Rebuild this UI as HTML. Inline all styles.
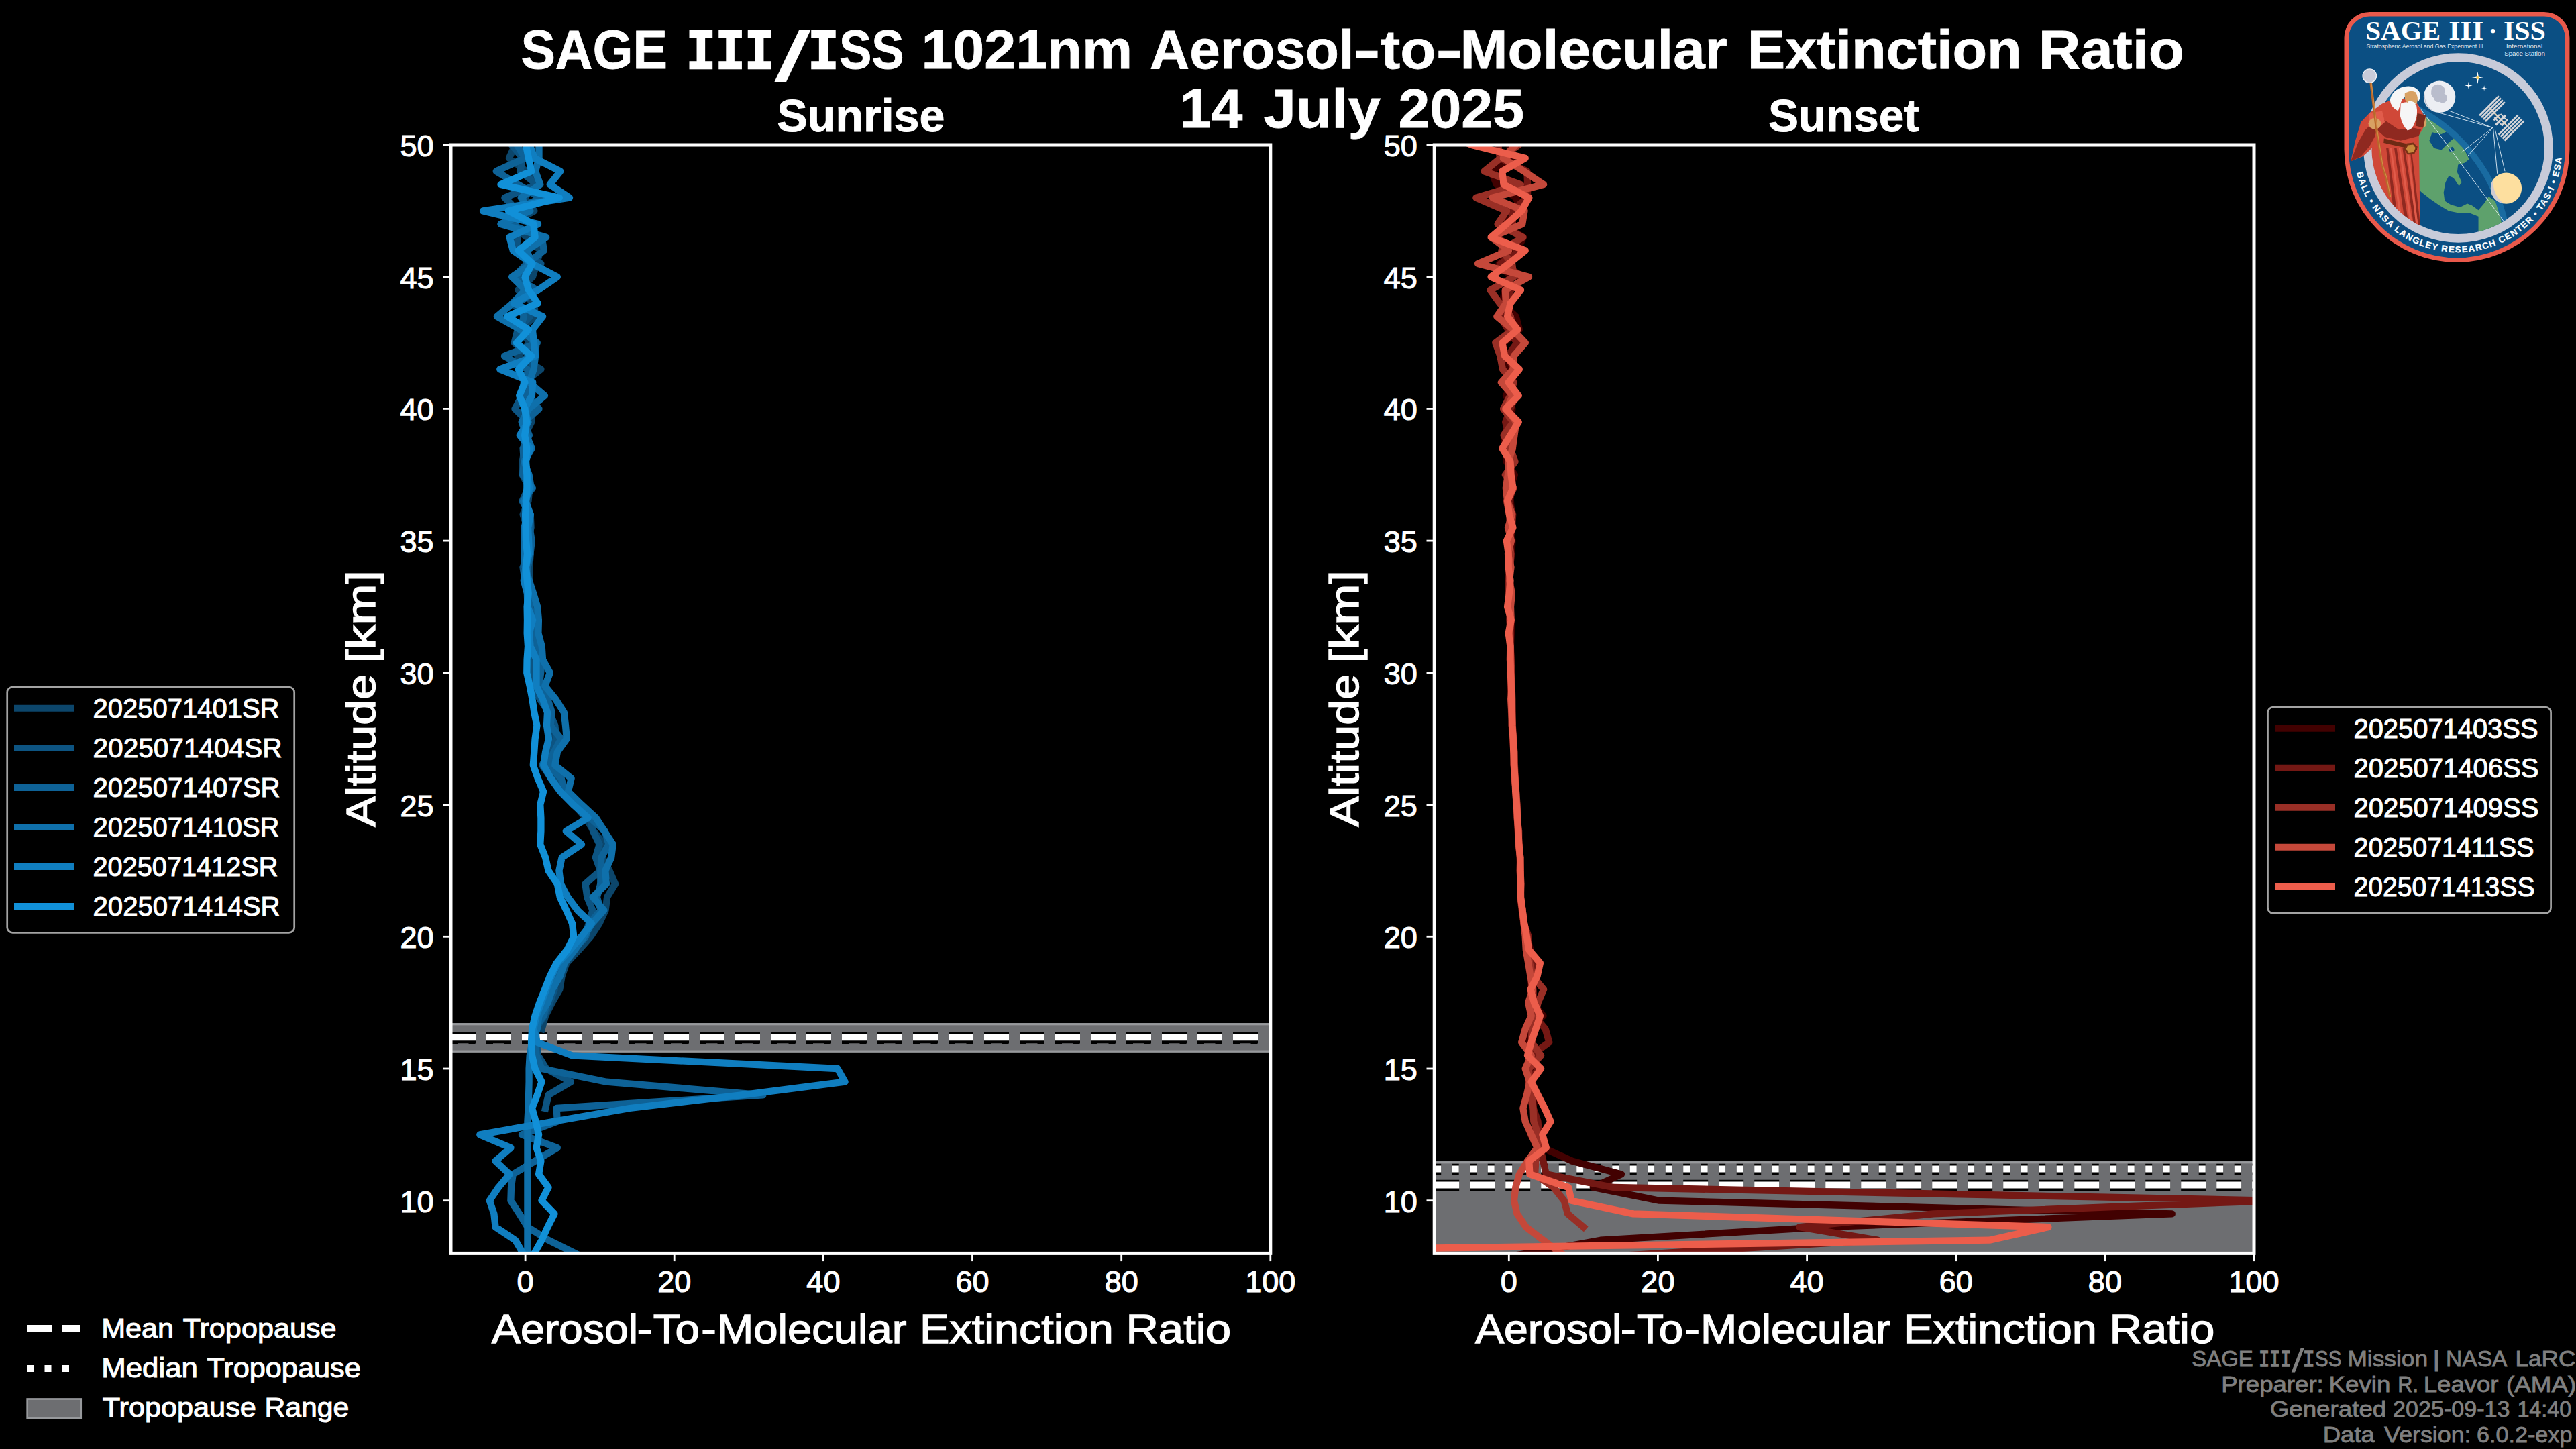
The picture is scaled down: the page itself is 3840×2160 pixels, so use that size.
<!DOCTYPE html>
<html lang="en"><head><meta charset="utf-8"><title>SAGE III/ISS 1021nm Aerosol-to-Molecular Extinction Ratio</title>
<style>html,body{margin:0;padding:0;background:#000;overflow:hidden;width:100%;height:100%}svg{display:block;width:100vw;height:100vh}</style></head><body>
<svg viewBox="0 0 3840 2160" preserveAspectRatio="xMidYMid meet" font-family="'Liberation Sans', sans-serif">
<rect width="3840" height="2160" fill="#000"/>
<defs>
<clipPath id="clip0"><rect x="672.0" y="216.0" width="1221.8" height="1652.4"/></clipPath>
<clipPath id="clip1"><rect x="2138.2" y="216.0" width="1221.8" height="1652.4"/></clipPath>
</defs>
<g clip-path="url(#clip0)">
<rect x="662.0" y="1526.7" width="1241.8" height="40.5" fill="#6d6e71" stroke="#97999c" stroke-width="3.3"/>
<line x1="672.0" y1="1548.0" x2="1893.8" y2="1548.0" stroke="#000" stroke-width="16.7" stroke-dasharray="10 16.5"/>
<line x1="672.0" y1="1547.4" x2="1893.8" y2="1547.4" stroke="#fff" stroke-width="10" stroke-dasharray="10 16.5"/>
<line x1="672.0" y1="1546.8" x2="1893.8" y2="1546.8" stroke="#000" stroke-width="16.7" stroke-dasharray="37 16"/>
<line x1="672.0" y1="1546.2" x2="1893.8" y2="1546.2" stroke="#fff" stroke-width="10" stroke-dasharray="37 16"/>
<polyline points="754.7,196.3 767.9,216.0 759.0,235.7 784.2,255.3 798.7,275.0 781.8,294.7 796.4,314.4 760.1,334.0 785.4,353.7 805.6,373.4 799.9,393.0 794.0,412.7 772.1,432.4 796.4,452.1 797.8,471.7 774.5,491.4 789.7,511.1 771.4,530.7 806.4,550.4 780.7,570.1 777.1,589.8 791.2,609.4 792.2,629.1 782.4,648.8 782.1,668.4 778.6,688.1 778.6,707.8 789.3,727.5 787.5,747.1 779.6,766.8 785.8,786.5 784.9,806.1 790.8,825.8 789.1,845.5 789.3,865.2 790.3,884.8 797.3,904.5 800.3,924.2 796.4,943.8 798.3,963.5 804.7,983.2 799.7,1002.9 806.5,1022.5 808.6,1042.2 816.1,1061.9 819.7,1081.5 819.2,1101.2 820.9,1120.9 827.3,1140.6 832.0,1160.2 843.0,1179.9 856.2,1199.6 873.1,1219.2 884.9,1238.9 900.3,1258.6 898.2,1278.3 908.5,1297.9 917.1,1317.6 905.1,1337.3 902.6,1356.9 893.5,1376.6 880.4,1396.3 863.1,1416.0 844.5,1435.6 837.5,1455.3 834.3,1475.0 822.9,1494.6 813.1,1514.3 807.7,1534.0" fill="none" stroke="#0c466b" stroke-width="10.3" stroke-linejoin="round" stroke-linecap="square"/>
<polyline points="753.0,196.3 762.9,216.0 778.9,235.7 775.6,255.3 800.2,275.0 752.4,294.7 771.9,314.4 768.5,334.0 772.0,353.7 768.7,373.4 806.4,393.0 764.0,412.7 783.7,432.4 763.5,452.1 790.2,471.7 771.7,491.4 766.7,511.1 790.4,530.7 795.2,550.4 787.9,570.1 778.0,589.8 767.5,609.4 787.3,629.1 781.2,648.8 785.8,668.4 782.5,688.1 785.4,707.8 787.5,727.5 778.4,747.1 790.7,766.8 791.5,786.5 787.3,806.1 788.9,825.8 779.5,845.5 782.6,865.2 791.7,884.8 791.8,904.5 790.9,924.2 788.8,943.8 794.0,963.5 795.4,983.2 794.5,1002.9 796.3,1022.5 804.7,1042.2 819.0,1061.9 827.4,1081.5 829.3,1101.2 819.9,1120.9 808.2,1140.6 821.6,1160.2 840.6,1179.9 855.6,1199.6 879.2,1219.2 884.1,1238.9 893.6,1258.6 887.9,1278.3 895.1,1297.9 872.5,1317.6 875.3,1337.3 883.4,1356.9 877.8,1376.6 871.6,1396.3 850.0,1416.0 840.1,1435.6 828.0,1455.3 826.5,1475.0 819.7,1494.6 811.1,1514.3 798.7,1534.0 799.7,1553.7 802.0,1573.3 814.2,1593.0 850.8,1612.7 817.5,1632.3 813.1,1652.0" fill="none" stroke="#0d5482" stroke-width="10.3" stroke-linejoin="round" stroke-linecap="square"/>
<polyline points="762.2,196.3 770.8,216.0 782.5,235.7 739.8,255.3 772.1,275.0 805.8,294.7 768.5,314.4 760.0,334.0 807.8,353.7 810.8,373.4 785.3,393.0 766.4,412.7 800.8,432.4 771.5,452.1 781.0,471.7 774.9,491.4 800.8,511.1 752.0,530.7 786.1,550.4 783.8,570.1 785.2,589.8 803.5,609.4 781.0,629.1 788.9,648.8 779.6,668.4 781.0,688.1 779.2,707.8 793.8,727.5 779.6,747.1 787.8,766.8 789.5,786.5 792.7,806.1 790.5,825.8 786.7,845.5 786.7,865.2 789.2,884.8 789.1,904.5 797.0,924.2 796.4,943.8 801.1,963.5 808.4,983.2 806.1,1002.9 803.7,1022.5 816.3,1042.2 822.8,1061.9 820.6,1081.5 836.5,1101.2 825.8,1120.9 816.0,1140.6 836.7,1160.2 841.6,1179.9 864.0,1199.6 879.7,1219.2 901.6,1238.9 907.5,1258.6 896.4,1278.3 895.3,1297.9 895.3,1317.6 889.9,1337.3 895.6,1356.9 878.9,1376.6 873.1,1396.3 855.3,1416.0 838.2,1435.6 832.0,1455.3 817.1,1475.0 815.0,1494.6 810.3,1514.3 796.4,1534.0 797.5,1553.7 799.7,1573.3 807.5,1593.0 904.1,1612.7 1137.4,1632.3 829.7,1652.0 830.8,1671.7 778.0,1691.4 830.8,1711.0 797.5,1730.7 764.7,1750.4 762.0,1770.0 761.4,1789.7 774.2,1809.4 786.4,1829.1 817.5,1848.7 857.5,1868.4" fill="none" stroke="#0e6297" stroke-width="10.3" stroke-linejoin="round" stroke-linecap="square"/>
<polyline points="790.8,196.3 803.5,216.0 803.5,235.7 798.1,255.3 805.3,275.0 776.7,294.7 790.4,314.4 746.4,334.0 814.2,353.7 785.1,373.4 793.1,393.0 763.1,412.7 783.3,432.4 764.2,452.1 740.9,471.7 775.6,491.4 799.4,511.1 798.1,530.7 795.6,550.4 788.9,570.1 812.0,589.8 788.4,609.4 777.7,629.1 784.7,648.8 792.7,668.4 781.3,688.1 788.6,707.8 791.8,727.5 780.5,747.1 786.9,766.8 781.4,786.5 781.9,806.1 781.3,825.8 782.8,845.5 788.7,865.2 795.2,884.8 801.1,904.5 802.9,924.2 802.4,943.8 807.7,963.5 809.0,983.2 819.9,1002.9 812.3,1022.5 828.3,1042.2 840.8,1061.9 843.0,1081.5 844.8,1101.2 830.9,1120.9 827.2,1140.6 851.6,1160.2 846.9,1179.9 867.1,1199.6 888.5,1219.2 901.1,1238.9 913.7,1258.6 911.2,1278.3 902.4,1297.9 903.9,1317.6 883.8,1337.3 900.2,1356.9 882.7,1376.6 870.4,1396.3 856.9,1416.0 841.7,1435.6 834.7,1455.3 823.2,1475.0 816.5,1494.6 803.5,1514.3 800.7,1534.0 793.1,1553.7 789.7,1573.3 788.6,1593.0 788.6,1612.7 788.1,1632.3 787.5,1652.0 786.4,1671.7 786.4,1691.4 786.4,1711.0 786.4,1730.7 786.4,1750.4 786.4,1770.0 786.4,1789.7 786.4,1809.4 786.4,1829.1 786.4,1848.7 786.4,1868.4" fill="none" stroke="#0f70ab" stroke-width="10.3" stroke-linejoin="round" stroke-linecap="square"/>
<polyline points="760.7,196.3 789.7,216.0 796.4,235.7 835.3,255.3 819.7,275.0 849.0,294.7 720.0,314.4 802.0,334.0 759.6,353.7 764.8,373.4 793.0,393.0 830.8,412.7 802.0,432.4 765.9,452.1 809.1,471.7 793.8,491.4 795.9,511.1 797.8,530.7 745.3,550.4 794.2,570.1 792.9,589.8 781.8,609.4 787.3,629.1 774.8,648.8 790.3,668.4 783.3,688.1 785.7,707.8 789.3,727.5 783.3,747.1 790.8,766.8 787.1,786.5 788.1,806.1 788.8,825.8 783.5,845.5 780.8,865.2 785.9,884.8 786.5,904.5 794.1,924.2 788.9,943.8 790.6,963.5 799.6,983.2 799.5,1002.9 799.5,1022.5 808.9,1042.2 816.0,1061.9 815.0,1081.5 818.0,1101.2 813.1,1120.9 810.2,1140.6 821.2,1160.2 835.2,1179.9 854.6,1199.6 876.7,1219.2 843.8,1238.9 867.0,1258.6 837.6,1278.3 833.4,1297.9 835.9,1317.6 846.4,1337.3 860.9,1356.9 881.7,1376.6 866.4,1396.3 849.8,1416.0 831.5,1435.6 822.1,1455.3 814.2,1475.0 806.9,1494.6 799.4,1514.3 795.4,1534.0 800.8,1553.7 852.5,1573.3 1248.5,1593.0 1259.6,1612.7 1105.2,1632.3 938.6,1652.0 825.3,1671.7 715.3,1691.4 761.4,1711.0 738.6,1730.7 759.7,1750.4 743.1,1770.0 729.8,1789.7 736.4,1809.4 738.6,1829.1 768.1,1848.7 779.7,1868.4" fill="none" stroke="#107ec0" stroke-width="10.3" stroke-linejoin="round" stroke-linecap="square"/>
<polyline points="773.2,196.3 783.9,216.0 788.0,235.7 792.1,255.3 746.5,275.0 833.8,294.7 758.0,314.4 795.3,334.0 797.6,353.7 772.7,373.4 793.5,393.0 782.4,412.7 788.0,432.4 801.7,452.1 756.2,471.7 788.0,491.4 770.0,511.1 792.1,530.7 772.7,550.4 782.4,570.1 774.2,589.8 782.4,609.4 785.1,629.1 782.2,648.8 785.2,668.4 784.1,688.1 785.5,707.8 785.4,727.5 784.2,747.1 783.1,766.8 783.6,786.5 784.0,806.1 786.0,825.8 784.1,845.5 785.8,865.2 787.6,884.8 785.6,904.5 786.0,924.2 785.7,943.8 787.0,963.5 785.6,983.2 785.3,1002.9 789.7,1022.5 793.5,1042.2 796.3,1061.9 800.4,1081.5 797.6,1101.2 796.3,1120.9 794.8,1140.6 801.7,1160.2 810.1,1179.9 805.3,1199.6 806.4,1219.2 806.4,1238.9 805.3,1258.6 813.1,1278.3 817.5,1297.9 830.8,1317.6 834.7,1337.3 844.2,1356.9 853.0,1376.6 855.3,1396.3 845.3,1416.0 829.7,1435.6 819.7,1455.3 812.0,1475.0 804.2,1494.6 797.5,1514.3 793.1,1534.0 792.0,1553.7 793.1,1573.3 797.5,1593.0 807.5,1612.7 800.8,1632.3 793.1,1652.0 798.6,1671.7 803.1,1691.4 799.7,1711.0 806.4,1730.7 803.1,1750.4 817.5,1770.0 807.5,1789.7 826.4,1809.4 816.4,1829.1 807.5,1848.7 796.4,1868.4" fill="none" stroke="#1190d8" stroke-width="10.3" stroke-linejoin="round" stroke-linecap="square"/>
</g>
<rect x="672.0" y="216.0" width="1221.8" height="1652.4" fill="none" stroke="#fff" stroke-width="5"/>
<line x1="660.3" y1="1789.7" x2="672.0" y2="1789.7" stroke="#fff" stroke-width="2.8"/>
<text x="646.5" y="1806.6" font-size="45.0" text-anchor="end" fill="#fff" stroke="#fff" stroke-width="1.17">10</text>
<line x1="660.3" y1="1593.0" x2="672.0" y2="1593.0" stroke="#fff" stroke-width="2.8"/>
<text x="646.5" y="1609.9" font-size="45.0" text-anchor="end" fill="#fff" stroke="#fff" stroke-width="1.17">15</text>
<line x1="660.3" y1="1396.3" x2="672.0" y2="1396.3" stroke="#fff" stroke-width="2.8"/>
<text x="646.5" y="1413.2" font-size="45.0" text-anchor="end" fill="#fff" stroke="#fff" stroke-width="1.17">20</text>
<line x1="660.3" y1="1199.6" x2="672.0" y2="1199.6" stroke="#fff" stroke-width="2.8"/>
<text x="646.5" y="1216.5" font-size="45.0" text-anchor="end" fill="#fff" stroke="#fff" stroke-width="1.17">25</text>
<line x1="660.3" y1="1002.9" x2="672.0" y2="1002.9" stroke="#fff" stroke-width="2.8"/>
<text x="646.5" y="1019.8" font-size="45.0" text-anchor="end" fill="#fff" stroke="#fff" stroke-width="1.17">30</text>
<line x1="660.3" y1="806.1" x2="672.0" y2="806.1" stroke="#fff" stroke-width="2.8"/>
<text x="646.5" y="823.0" font-size="45.0" text-anchor="end" fill="#fff" stroke="#fff" stroke-width="1.17">35</text>
<line x1="660.3" y1="609.4" x2="672.0" y2="609.4" stroke="#fff" stroke-width="2.8"/>
<text x="646.5" y="626.3" font-size="45.0" text-anchor="end" fill="#fff" stroke="#fff" stroke-width="1.17">40</text>
<line x1="660.3" y1="412.7" x2="672.0" y2="412.7" stroke="#fff" stroke-width="2.8"/>
<text x="646.5" y="429.6" font-size="45.0" text-anchor="end" fill="#fff" stroke="#fff" stroke-width="1.17">45</text>
<line x1="660.3" y1="216.0" x2="672.0" y2="216.0" stroke="#fff" stroke-width="2.8"/>
<text x="646.5" y="232.9" font-size="45.0" text-anchor="end" fill="#fff" stroke="#fff" stroke-width="1.17">50</text>
<line x1="783.1" y1="1868.4" x2="783.1" y2="1880.1" stroke="#fff" stroke-width="2.8"/>
<text x="783.1" y="1926.4" font-size="45.0" text-anchor="middle" fill="#fff" stroke="#fff" stroke-width="1.17">0</text>
<line x1="1005.2" y1="1868.4" x2="1005.2" y2="1880.1" stroke="#fff" stroke-width="2.8"/>
<text x="1005.2" y="1926.4" font-size="45.0" text-anchor="middle" fill="#fff" stroke="#fff" stroke-width="1.17">20</text>
<line x1="1227.4" y1="1868.4" x2="1227.4" y2="1880.1" stroke="#fff" stroke-width="2.8"/>
<text x="1227.4" y="1926.4" font-size="45.0" text-anchor="middle" fill="#fff" stroke="#fff" stroke-width="1.17">40</text>
<line x1="1449.5" y1="1868.4" x2="1449.5" y2="1880.1" stroke="#fff" stroke-width="2.8"/>
<text x="1449.5" y="1926.4" font-size="45.0" text-anchor="middle" fill="#fff" stroke="#fff" stroke-width="1.17">60</text>
<line x1="1671.7" y1="1868.4" x2="1671.7" y2="1880.1" stroke="#fff" stroke-width="2.8"/>
<text x="1671.7" y="1926.4" font-size="45.0" text-anchor="middle" fill="#fff" stroke="#fff" stroke-width="1.17">80</text>
<line x1="1893.8" y1="1868.4" x2="1893.8" y2="1880.1" stroke="#fff" stroke-width="2.8"/>
<text x="1893.8" y="1926.4" font-size="45.0" text-anchor="middle" fill="#fff" stroke="#fff" stroke-width="1.17">100</text>
<text x="733.0" y="2002.2" font-size="60.8" fill="#fff" stroke="#fff" stroke-width="1.40" textLength="218.0" lengthAdjust="spacingAndGlyphs">Aerosol</text>
<text x="949.5" y="2002.2" font-size="60.8" fill="#fff" stroke="#fff" stroke-width="1.40" textLength="23.1" lengthAdjust="spacingAndGlyphs">-</text>
<text x="973.7" y="2002.2" font-size="60.8" fill="#fff" stroke="#fff" stroke-width="1.40" textLength="69.2" lengthAdjust="spacingAndGlyphs">To</text>
<text x="1045.3" y="2002.2" font-size="60.8" fill="#fff" stroke="#fff" stroke-width="1.40" textLength="22.5" lengthAdjust="spacingAndGlyphs">-</text>
<text x="1068.9" y="2002.2" font-size="60.8" fill="#fff" stroke="#fff" stroke-width="1.40" textLength="282.5" lengthAdjust="spacingAndGlyphs">Molecular</text>
<text x="1371.0" y="2002.2" font-size="60.8" fill="#fff" stroke="#fff" stroke-width="1.40" textLength="288.7" lengthAdjust="spacingAndGlyphs">Extinction</text>
<text x="1678.4" y="2002.2" font-size="60.8" fill="#fff" stroke="#fff" stroke-width="1.40" textLength="156.6" lengthAdjust="spacingAndGlyphs">Ratio</text>
<g transform="translate(558.5,0) rotate(-90)">
<text x="-1232.8" y="0.0" font-size="60.8" fill="#fff" stroke="#fff" stroke-width="1.40" textLength="228.0" lengthAdjust="spacingAndGlyphs">Altitude</text>
<text x="-988.3" y="0.0" font-size="60.8" fill="#fff" stroke="#fff" stroke-width="1.40" textLength="138.1" lengthAdjust="spacingAndGlyphs">[km]</text>
</g>
<text x="1158.3" y="196.0" font-size="67.8" font-weight="bold" fill="#fff" stroke="#fff" stroke-width="0.90" textLength="250.2" lengthAdjust="spacingAndGlyphs">Sunrise</text>
<g clip-path="url(#clip1)">
<rect x="2128.2" y="1732.7" width="1241.8" height="214.4" fill="#6d6e71" stroke="#97999c" stroke-width="3.3"/>
<line x1="2138.2" y1="1743.1" x2="3360.0" y2="1743.1" stroke="#000" stroke-width="16.7" stroke-dasharray="10 16.5"/>
<line x1="2138.2" y1="1742.5" x2="3360.0" y2="1742.5" stroke="#fff" stroke-width="10" stroke-dasharray="10 16.5"/>
<line x1="2138.2" y1="1767.1" x2="3360.0" y2="1767.1" stroke="#000" stroke-width="16.7" stroke-dasharray="37 16"/>
<line x1="2138.2" y1="1766.5" x2="3360.0" y2="1766.5" stroke="#fff" stroke-width="10" stroke-dasharray="37 16"/>
<polyline points="2238.4,196.3 2250.2,216.0 2253.4,235.7 2222.7,255.3 2231.0,275.0 2259.8,294.7 2267.9,314.4 2239.1,334.0 2270.9,353.7 2261.5,373.4 2234.6,393.0 2252.2,412.7 2244.0,432.4 2238.6,452.1 2259.7,471.7 2265.0,491.4 2241.9,511.1 2238.1,530.7 2253.0,550.4 2256.1,570.1 2245.0,589.8 2254.5,609.4 2250.8,629.1 2242.0,648.8 2244.4,668.4 2245.8,688.1 2257.8,707.8 2251.1,727.5 2251.9,747.1 2253.4,766.8 2251.5,786.5 2254.4,806.1 2253.4,825.8 2250.8,845.5 2250.7,865.2 2253.6,884.8 2251.0,904.5 2253.0,924.2 2252.8,943.8 2252.0,963.5 2253.1,983.2 2251.0,1002.9 2251.6,1022.5 2253.6,1042.2 2254.6,1061.9 2253.5,1081.5 2254.7,1101.2 2256.6,1120.9 2256.5,1140.6 2258.6,1160.2 2259.4,1179.9 2261.1,1199.6 2262.1,1219.2 2262.6,1238.9 2264.2,1258.6 2266.1,1278.3 2265.7,1297.9 2266.7,1317.6 2266.5,1337.3 2268.7,1356.9 2271.3,1376.6 2275.5,1396.3 2281.9,1416.0 2285.8,1435.6 2282.4,1455.3 2282.3,1475.0 2284.8,1494.6 2300.4,1514.3 2279.3,1534.0 2276.4,1553.7 2282.7,1573.3 2285.5,1593.0 2284.2,1612.7 2289.3,1632.3 2285.2,1652.0 2292.6,1671.7 2281.5,1691.4 2300.4,1711.0 2343.7,1730.7 2417.0,1750.4 2374.8,1770.0 2473.6,1789.7 3237.8,1809.4 2721.3,1829.1 2385.9,1848.7 2277.0,1868.4 2160.4,1888.1" fill="none" stroke="#420101" stroke-width="10.3" stroke-linejoin="round" stroke-linecap="square"/>
<polyline points="2250.5,196.3 2233.3,216.0 2235.8,235.7 2276.4,255.3 2277.1,275.0 2277.0,294.7 2253.5,314.4 2255.0,334.0 2228.9,353.7 2266.2,373.4 2236.7,393.0 2271.6,412.7 2252.0,432.4 2247.8,452.1 2236.0,471.7 2248.1,491.4 2261.5,511.1 2247.6,530.7 2256.8,550.4 2243.1,570.1 2259.2,589.8 2251.6,609.4 2244.2,629.1 2249.3,648.8 2255.0,668.4 2250.2,688.1 2247.7,707.8 2255.8,727.5 2249.2,747.1 2255.2,766.8 2253.9,786.5 2250.3,806.1 2249.1,825.8 2249.6,845.5 2249.1,865.2 2249.4,884.8 2250.9,904.5 2250.3,924.2 2251.9,943.8 2251.6,963.5 2250.9,983.2 2252.0,1002.9 2253.0,1022.5 2252.8,1042.2 2253.0,1061.9 2254.9,1081.5 2255.6,1101.2 2257.0,1120.9 2257.9,1140.6 2259.0,1160.2 2259.6,1179.9 2260.2,1199.6 2262.8,1219.2 2263.0,1238.9 2264.4,1258.6 2265.6,1278.3 2266.9,1297.9 2266.4,1317.6 2266.4,1337.3 2268.8,1356.9 2271.8,1376.6 2278.6,1396.3 2277.3,1416.0 2287.0,1435.6 2282.4,1455.3 2285.6,1475.0 2285.8,1494.6 2287.3,1514.3 2303.7,1534.0 2309.3,1553.7 2282.5,1573.3 2292.6,1593.0 2281.7,1612.7 2279.4,1632.3 2285.7,1652.0 2292.3,1671.7 2294.8,1691.4 2295.9,1711.0 2300.4,1730.7 2304.8,1750.4 2404.8,1770.0 3393.3,1789.7 2882.4,1809.4 2682.5,1829.1 2799.1,1848.7 2473.6,1868.4 2147.1,1888.1" fill="none" stroke="#741814" stroke-width="10.3" stroke-linejoin="round" stroke-linecap="square"/>
<polyline points="2278.9,196.3 2263.7,216.0 2236.8,235.7 2212.6,255.3 2266.9,275.0 2200.4,294.7 2246.0,314.4 2232.6,334.0 2270.4,353.7 2238.4,373.4 2254.1,393.0 2256.7,412.7 2221.5,432.4 2235.7,452.1 2251.8,471.7 2255.5,491.4 2229.3,511.1 2236.4,530.7 2240.0,550.4 2256.5,570.1 2251.2,589.8 2241.1,609.4 2255.8,629.1 2241.7,648.8 2251.3,668.4 2258.5,688.1 2243.9,707.8 2256.7,727.5 2246.0,747.1 2250.1,766.8 2251.2,786.5 2249.7,806.1 2252.4,825.8 2251.4,845.5 2250.0,865.2 2249.6,884.8 2251.3,904.5 2251.2,924.2 2250.9,943.8 2251.4,963.5 2252.5,983.2 2253.2,1002.9 2253.6,1022.5 2254.3,1042.2 2254.4,1061.9 2254.7,1081.5 2255.9,1101.2 2257.1,1120.9 2257.9,1140.6 2257.7,1160.2 2260.1,1179.9 2261.5,1199.6 2261.4,1219.2 2264.1,1238.9 2264.1,1258.6 2266.3,1278.3 2265.7,1297.9 2267.0,1317.6 2266.6,1337.3 2269.7,1356.9 2271.5,1376.6 2276.9,1396.3 2277.8,1416.0 2280.3,1435.6 2284.9,1455.3 2301.1,1475.0 2292.6,1494.6 2288.2,1514.3 2283.7,1534.0 2283.1,1553.7 2297.0,1573.3 2279.3,1593.0 2278.4,1612.7 2284.1,1632.3 2285.5,1652.0 2286.3,1671.7 2292.8,1691.4 2292.6,1711.0 2289.3,1730.7 2288.1,1750.4 2315.9,1770.0 2331.5,1789.7 2337.0,1809.4 2360.3,1829.1" fill="none" stroke="#992f26" stroke-width="10.3" stroke-linejoin="round" stroke-linecap="square"/>
<polyline points="2246.7,196.3 2259.0,216.0 2240.8,235.7 2271.7,255.3 2301.1,275.0 2224.6,294.7 2272.5,314.4 2269.3,334.0 2223.1,353.7 2249.1,373.4 2203.1,393.0 2279.0,412.7 2243.8,432.4 2244.9,452.1 2231.5,471.7 2255.3,491.4 2273.7,511.1 2256.6,530.7 2255.6,550.4 2237.9,570.1 2255.1,589.8 2245.8,609.4 2260.4,629.1 2257.5,648.8 2254.8,668.4 2248.5,688.1 2247.9,707.8 2244.8,727.5 2247.1,747.1 2254.2,766.8 2248.0,786.5 2253.0,806.1 2248.0,825.8 2252.5,845.5 2250.1,865.2 2253.8,884.8 2252.0,904.5 2252.6,924.2 2250.3,943.8 2251.2,963.5 2251.0,983.2 2252.1,1002.9 2253.8,1022.5 2252.1,1042.2 2253.4,1061.9 2253.8,1081.5 2256.1,1101.2 2257.2,1120.9 2256.8,1140.6 2258.1,1160.2 2259.9,1179.9 2261.2,1199.6 2262.4,1219.2 2263.1,1238.9 2263.9,1258.6 2266.1,1278.3 2266.5,1297.9 2267.4,1317.6 2266.6,1337.3 2269.7,1356.9 2271.5,1376.6 2273.7,1396.3 2274.8,1416.0 2278.2,1435.6 2281.5,1455.3 2284.8,1475.0 2278.2,1494.6 2282.6,1514.3 2273.7,1534.0 2268.2,1553.7 2282.6,1573.3 2273.7,1593.0 2280.4,1612.7 2275.9,1632.3 2270.4,1652.0 2273.7,1671.7 2282.6,1691.4 2291.5,1711.0 2277.0,1730.7 2264.8,1750.4 2259.3,1770.0 2257.0,1789.7 2261.5,1809.4 2274.8,1829.1 2300.4,1848.7 2327.0,1868.4 2365.9,1888.1" fill="none" stroke="#c5483a" stroke-width="10.3" stroke-linejoin="round" stroke-linecap="square"/>
<polyline points="2149.3,196.3 2193.7,216.0 2273.7,235.7 2239.3,255.3 2241.5,275.0 2279.3,294.7 2268.2,314.4 2245.9,334.0 2222.6,353.7 2273.7,373.4 2249.3,393.0 2222.6,412.7 2267.0,432.4 2251.5,452.1 2247.1,471.7 2262.6,491.4 2239.3,511.1 2243.2,530.7 2264.8,550.4 2248.7,570.1 2263.7,589.8 2244.3,609.4 2263.7,629.1 2251.5,648.8 2239.3,668.4 2251.5,688.1 2252.6,707.8 2255.4,727.5 2247.1,747.1 2249.8,766.8 2255.4,786.5 2245.9,806.1 2248.7,825.8 2248.7,845.5 2251.5,865.2 2249.8,884.8 2247.1,904.5 2252.6,924.2 2248.7,943.8 2251.5,963.5 2251.5,983.2 2251.9,1002.9 2252.7,1022.5 2253.3,1042.2 2253.9,1061.9 2254.4,1081.5 2255.6,1101.2 2256.3,1120.9 2257.0,1140.6 2258.5,1160.2 2259.2,1179.9 2260.8,1199.6 2262.1,1219.2 2263.3,1238.9 2264.4,1258.6 2266.3,1278.3 2266.4,1297.9 2266.9,1317.6 2267.1,1337.3 2269.4,1356.9 2272.3,1376.6 2275.9,1396.3 2279.3,1416.0 2295.9,1435.6 2291.5,1455.3 2281.5,1475.0 2287.0,1494.6 2295.9,1514.3 2289.3,1534.0 2282.6,1553.7 2277.0,1573.3 2297.0,1593.0 2282.6,1612.7 2292.6,1632.3 2302.6,1652.0 2311.5,1671.7 2299.3,1691.4 2304.8,1711.0 2279.3,1730.7 2280.4,1750.4 2338.1,1770.0 2342.6,1789.7 2434.8,1809.4 3053.4,1829.1 2965.7,1848.7 1582.8,1868.4" fill="none" stroke="#ec5d4b" stroke-width="10.3" stroke-linejoin="round" stroke-linecap="square"/>
</g>
<rect x="2138.2" y="216.0" width="1221.8" height="1652.4" fill="none" stroke="#fff" stroke-width="5"/>
<line x1="2126.5" y1="1789.7" x2="2138.2" y2="1789.7" stroke="#fff" stroke-width="2.8"/>
<text x="2112.7" y="1806.6" font-size="45.0" text-anchor="end" fill="#fff" stroke="#fff" stroke-width="1.17">10</text>
<line x1="2126.5" y1="1593.0" x2="2138.2" y2="1593.0" stroke="#fff" stroke-width="2.8"/>
<text x="2112.7" y="1609.9" font-size="45.0" text-anchor="end" fill="#fff" stroke="#fff" stroke-width="1.17">15</text>
<line x1="2126.5" y1="1396.3" x2="2138.2" y2="1396.3" stroke="#fff" stroke-width="2.8"/>
<text x="2112.7" y="1413.2" font-size="45.0" text-anchor="end" fill="#fff" stroke="#fff" stroke-width="1.17">20</text>
<line x1="2126.5" y1="1199.6" x2="2138.2" y2="1199.6" stroke="#fff" stroke-width="2.8"/>
<text x="2112.7" y="1216.5" font-size="45.0" text-anchor="end" fill="#fff" stroke="#fff" stroke-width="1.17">25</text>
<line x1="2126.5" y1="1002.9" x2="2138.2" y2="1002.9" stroke="#fff" stroke-width="2.8"/>
<text x="2112.7" y="1019.8" font-size="45.0" text-anchor="end" fill="#fff" stroke="#fff" stroke-width="1.17">30</text>
<line x1="2126.5" y1="806.1" x2="2138.2" y2="806.1" stroke="#fff" stroke-width="2.8"/>
<text x="2112.7" y="823.0" font-size="45.0" text-anchor="end" fill="#fff" stroke="#fff" stroke-width="1.17">35</text>
<line x1="2126.5" y1="609.4" x2="2138.2" y2="609.4" stroke="#fff" stroke-width="2.8"/>
<text x="2112.7" y="626.3" font-size="45.0" text-anchor="end" fill="#fff" stroke="#fff" stroke-width="1.17">40</text>
<line x1="2126.5" y1="412.7" x2="2138.2" y2="412.7" stroke="#fff" stroke-width="2.8"/>
<text x="2112.7" y="429.6" font-size="45.0" text-anchor="end" fill="#fff" stroke="#fff" stroke-width="1.17">45</text>
<line x1="2126.5" y1="216.0" x2="2138.2" y2="216.0" stroke="#fff" stroke-width="2.8"/>
<text x="2112.7" y="232.9" font-size="45.0" text-anchor="end" fill="#fff" stroke="#fff" stroke-width="1.17">50</text>
<line x1="2249.3" y1="1868.4" x2="2249.3" y2="1880.1" stroke="#fff" stroke-width="2.8"/>
<text x="2249.3" y="1926.4" font-size="45.0" text-anchor="middle" fill="#fff" stroke="#fff" stroke-width="1.17">0</text>
<line x1="2471.4" y1="1868.4" x2="2471.4" y2="1880.1" stroke="#fff" stroke-width="2.8"/>
<text x="2471.4" y="1926.4" font-size="45.0" text-anchor="middle" fill="#fff" stroke="#fff" stroke-width="1.17">20</text>
<line x1="2693.6" y1="1868.4" x2="2693.6" y2="1880.1" stroke="#fff" stroke-width="2.8"/>
<text x="2693.6" y="1926.4" font-size="45.0" text-anchor="middle" fill="#fff" stroke="#fff" stroke-width="1.17">40</text>
<line x1="2915.7" y1="1868.4" x2="2915.7" y2="1880.1" stroke="#fff" stroke-width="2.8"/>
<text x="2915.7" y="1926.4" font-size="45.0" text-anchor="middle" fill="#fff" stroke="#fff" stroke-width="1.17">60</text>
<line x1="3137.9" y1="1868.4" x2="3137.9" y2="1880.1" stroke="#fff" stroke-width="2.8"/>
<text x="3137.9" y="1926.4" font-size="45.0" text-anchor="middle" fill="#fff" stroke="#fff" stroke-width="1.17">80</text>
<line x1="3360.0" y1="1868.4" x2="3360.0" y2="1880.1" stroke="#fff" stroke-width="2.8"/>
<text x="3360.0" y="1926.4" font-size="45.0" text-anchor="middle" fill="#fff" stroke="#fff" stroke-width="1.17">100</text>
<text x="2199.2" y="2002.2" font-size="60.8" fill="#fff" stroke="#fff" stroke-width="1.40" textLength="218.0" lengthAdjust="spacingAndGlyphs">Aerosol</text>
<text x="2415.7" y="2002.2" font-size="60.8" fill="#fff" stroke="#fff" stroke-width="1.40" textLength="23.1" lengthAdjust="spacingAndGlyphs">-</text>
<text x="2439.9" y="2002.2" font-size="60.8" fill="#fff" stroke="#fff" stroke-width="1.40" textLength="69.2" lengthAdjust="spacingAndGlyphs">To</text>
<text x="2511.5" y="2002.2" font-size="60.8" fill="#fff" stroke="#fff" stroke-width="1.40" textLength="22.5" lengthAdjust="spacingAndGlyphs">-</text>
<text x="2535.1" y="2002.2" font-size="60.8" fill="#fff" stroke="#fff" stroke-width="1.40" textLength="282.5" lengthAdjust="spacingAndGlyphs">Molecular</text>
<text x="2837.2" y="2002.2" font-size="60.8" fill="#fff" stroke="#fff" stroke-width="1.40" textLength="288.7" lengthAdjust="spacingAndGlyphs">Extinction</text>
<text x="3144.6" y="2002.2" font-size="60.8" fill="#fff" stroke="#fff" stroke-width="1.40" textLength="156.6" lengthAdjust="spacingAndGlyphs">Ratio</text>
<g transform="translate(2024.7,0) rotate(-90)">
<text x="-1232.8" y="0.0" font-size="60.8" fill="#fff" stroke="#fff" stroke-width="1.40" textLength="228.0" lengthAdjust="spacingAndGlyphs">Altitude</text>
<text x="-988.3" y="0.0" font-size="60.8" fill="#fff" stroke="#fff" stroke-width="1.40" textLength="138.1" lengthAdjust="spacingAndGlyphs">[km]</text>
</g>
<text x="2635.9" y="196.0" font-size="67.8" font-weight="bold" fill="#fff" stroke="#fff" stroke-width="0.90" textLength="224.7" lengthAdjust="spacingAndGlyphs">Sunset</text>
<text x="776.4" y="101.7" font-size="81.0" font-weight="bold" fill="#fff" stroke="#fff" stroke-width="0.80" textLength="218.5" lengthAdjust="spacingAndGlyphs">SAGE</text>
<text x="1023.0" y="101.7" font-size="84.6" font-weight="bold" font-family="'Liberation Mono', monospace" fill="#fff" stroke="#fff" stroke-width="2.40" textLength="131.0" lengthAdjust="spacingAndGlyphs">III</text>
<text x="1204.4" y="101.7" font-size="84.6" font-weight="bold" font-family="'Liberation Mono', monospace" fill="#fff" stroke="#fff" stroke-width="2.40" textLength="45.9" lengthAdjust="spacingAndGlyphs">I</text>
<text x="1250.9" y="101.7" font-size="81.0" font-weight="bold" fill="#fff" stroke="#fff" stroke-width="0.80" textLength="96.8" lengthAdjust="spacingAndGlyphs">SS</text>
<text x="1373.4" y="101.7" font-size="81.0" font-weight="bold" fill="#fff" stroke="#fff" stroke-width="0.80" textLength="314.6" lengthAdjust="spacingAndGlyphs">1021nm</text>
<text x="1714.1" y="101.7" font-size="81.0" font-weight="bold" fill="#fff" stroke="#fff" stroke-width="0.80" textLength="304.5" lengthAdjust="spacingAndGlyphs">Aerosol</text>
<text x="2017.1" y="101.7" font-size="81.0" font-weight="bold" fill="#fff" stroke="#fff" stroke-width="0.80" textLength="40.8" lengthAdjust="spacingAndGlyphs">-</text>
<text x="2058.2" y="101.7" font-size="81.0" font-weight="bold" fill="#fff" stroke="#fff" stroke-width="0.80" textLength="82.1" lengthAdjust="spacingAndGlyphs">to</text>
<text x="2140.2" y="101.7" font-size="81.0" font-weight="bold" fill="#fff" stroke="#fff" stroke-width="0.80" textLength="39.9" lengthAdjust="spacingAndGlyphs">-</text>
<text x="2176.5" y="101.7" font-size="81.0" font-weight="bold" fill="#fff" stroke="#fff" stroke-width="0.80" textLength="398.3" lengthAdjust="spacingAndGlyphs">Molecular</text>
<text x="2604.8" y="101.7" font-size="81.0" font-weight="bold" fill="#fff" stroke="#fff" stroke-width="0.80" textLength="409.0" lengthAdjust="spacingAndGlyphs">Extinction</text>
<text x="3038.7" y="101.7" font-size="81.0" font-weight="bold" fill="#fff" stroke="#fff" stroke-width="0.80" textLength="217.2" lengthAdjust="spacingAndGlyphs">Ratio</text>
<text transform="translate(1153.6,120.2) skewX(-11.54) scale(1.822,1.293)" font-size="81.0" font-weight="bold" fill="#fff">/</text>
<text x="1758.6" y="189.9" font-size="81.0" font-weight="bold" fill="#fff" stroke="#fff" stroke-width="0.80" textLength="93.7" lengthAdjust="spacingAndGlyphs">14</text>
<text x="1883.5" y="189.9" font-size="81.0" font-weight="bold" fill="#fff" stroke="#fff" stroke-width="0.80" textLength="174.4" lengthAdjust="spacingAndGlyphs">July</text>
<text x="2084.6" y="189.9" font-size="81.0" font-weight="bold" fill="#fff" stroke="#fff" stroke-width="0.80" textLength="187.4" lengthAdjust="spacingAndGlyphs">2025</text>
<rect x="10.7" y="1024.2" width="428.0" height="366.2" rx="8" fill="#000" stroke="#a3a3a3" stroke-width="2.7"/>
<line x1="21" y1="1055.8" x2="111" y2="1055.8" stroke="#0c466b" stroke-width="10"/>
<text x="138.5" y="1070.0" font-size="41.5" text-anchor="start" fill="#fff" stroke="#fff" stroke-width="1.08" textLength="278.0" lengthAdjust="spacingAndGlyphs">2025071401SR</text>
<line x1="21" y1="1114.9" x2="111" y2="1114.9" stroke="#0d5482" stroke-width="10"/>
<text x="138.5" y="1129.1" font-size="41.5" text-anchor="start" fill="#fff" stroke="#fff" stroke-width="1.08" textLength="282.0" lengthAdjust="spacingAndGlyphs">2025071404SR</text>
<line x1="21" y1="1173.9" x2="111" y2="1173.9" stroke="#0e6297" stroke-width="10"/>
<text x="138.5" y="1188.1" font-size="41.5" text-anchor="start" fill="#fff" stroke="#fff" stroke-width="1.08" textLength="279.0" lengthAdjust="spacingAndGlyphs">2025071407SR</text>
<line x1="21" y1="1233.0" x2="111" y2="1233.0" stroke="#0f70ab" stroke-width="10"/>
<text x="138.5" y="1247.2" font-size="41.5" text-anchor="start" fill="#fff" stroke="#fff" stroke-width="1.08" textLength="278.0" lengthAdjust="spacingAndGlyphs">2025071410SR</text>
<line x1="21" y1="1292.0" x2="111" y2="1292.0" stroke="#107ec0" stroke-width="10"/>
<text x="138.5" y="1306.2" font-size="41.5" text-anchor="start" fill="#fff" stroke="#fff" stroke-width="1.08" textLength="276.0" lengthAdjust="spacingAndGlyphs">2025071412SR</text>
<line x1="21" y1="1351.1" x2="111" y2="1351.1" stroke="#1190d8" stroke-width="10"/>
<text x="138.5" y="1365.3" font-size="41.5" text-anchor="start" fill="#fff" stroke="#fff" stroke-width="1.08" textLength="279.0" lengthAdjust="spacingAndGlyphs">2025071414SR</text>
<rect x="3380.5" y="1054.2" width="422.1" height="307.1" rx="8" fill="#000" stroke="#a3a3a3" stroke-width="2.7"/>
<line x1="3391" y1="1085.7" x2="3481" y2="1085.7" stroke="#420101" stroke-width="10"/>
<text x="3508.5" y="1099.9" font-size="41.5" text-anchor="start" fill="#fff" stroke="#fff" stroke-width="1.08" textLength="275.0" lengthAdjust="spacingAndGlyphs">2025071403SS</text>
<line x1="3391" y1="1144.7" x2="3481" y2="1144.7" stroke="#741814" stroke-width="10"/>
<text x="3508.5" y="1158.9" font-size="41.5" text-anchor="start" fill="#fff" stroke="#fff" stroke-width="1.08" textLength="276.0" lengthAdjust="spacingAndGlyphs">2025071406SS</text>
<line x1="3391" y1="1203.8" x2="3481" y2="1203.8" stroke="#992f26" stroke-width="10"/>
<text x="3508.5" y="1218.0" font-size="41.5" text-anchor="start" fill="#fff" stroke="#fff" stroke-width="1.08" textLength="276.0" lengthAdjust="spacingAndGlyphs">2025071409SS</text>
<line x1="3391" y1="1262.8" x2="3481" y2="1262.8" stroke="#c5483a" stroke-width="10"/>
<text x="3508.5" y="1277.0" font-size="41.5" text-anchor="start" fill="#fff" stroke="#fff" stroke-width="1.08" textLength="269.0" lengthAdjust="spacingAndGlyphs">2025071411SS</text>
<line x1="3391" y1="1321.8" x2="3481" y2="1321.8" stroke="#ec5d4b" stroke-width="10"/>
<text x="3508.5" y="1336.0" font-size="41.5" text-anchor="start" fill="#fff" stroke="#fff" stroke-width="1.08" textLength="270.0" lengthAdjust="spacingAndGlyphs">2025071413SS</text>
<line x1="40" y1="1980.1" x2="120" y2="1980.1" stroke="#fff" stroke-width="10" stroke-dasharray="37 16"/>
<line x1="40" y1="2040" x2="120" y2="2040" stroke="#fff" stroke-width="10" stroke-dasharray="10 16.5"/>
<rect x="40.7" y="2085.5" width="80" height="28.3" fill="#6d6e71" stroke="#97999c" stroke-width="2.7"/>
<text transform="translate(3415.7,2044.9) skewX(-0.90) scale(2.002,1.461)" font-size="33.3" fill="#808080">/</text>
<text x="151.2" y="1994.2" font-size="40.8" fill="#fff" stroke="#fff" stroke-width="1.10" textLength="107.7" lengthAdjust="spacingAndGlyphs">Mean</text>
<text x="272.7" y="1994.2" font-size="40.8" fill="#fff" stroke="#fff" stroke-width="1.10" textLength="228.9" lengthAdjust="spacingAndGlyphs">Tropopause</text>
<text x="151.2" y="2053.4" font-size="40.8" fill="#fff" stroke="#fff" stroke-width="1.10" textLength="143.8" lengthAdjust="spacingAndGlyphs">Median</text>
<text x="308.5" y="2053.4" font-size="40.8" fill="#fff" stroke="#fff" stroke-width="1.10" textLength="229.2" lengthAdjust="spacingAndGlyphs">Tropopause</text>
<text x="152.7" y="2112.4" font-size="40.8" fill="#fff" stroke="#fff" stroke-width="1.10" textLength="229.1" lengthAdjust="spacingAndGlyphs">Tropopause</text>
<text x="394.4" y="2112.4" font-size="40.8" fill="#fff" stroke="#fff" stroke-width="1.10" textLength="125.9" lengthAdjust="spacingAndGlyphs">Range</text>
<text x="3267.3" y="2036.5" font-size="33.3" fill="#808080" stroke="#808080" stroke-width="0.80" textLength="91.5" lengthAdjust="spacingAndGlyphs">SAGE</text>
<text x="3366.9" y="2036.5" font-size="34.8" font-family="'Liberation Mono', monospace" fill="#808080" stroke="#808080" stroke-width="1.40" textLength="48.7" lengthAdjust="spacingAndGlyphs">III</text>
<text x="3432.5" y="2036.5" font-size="34.8" font-family="'Liberation Mono', monospace" fill="#808080" stroke="#808080" stroke-width="1.40" textLength="18.3" lengthAdjust="spacingAndGlyphs">I</text>
<text x="3451.1" y="2036.5" font-size="33.3" fill="#808080" stroke="#808080" stroke-width="0.80" textLength="39.2" lengthAdjust="spacingAndGlyphs">SS</text>
<text x="3499.4" y="2036.5" font-size="33.3" fill="#808080" stroke="#808080" stroke-width="0.80" textLength="119.8" lengthAdjust="spacingAndGlyphs">Mission</text>
<text x="3626.3" y="2036.5" font-size="33.3" fill="#808080" stroke="#808080" stroke-width="0.80" textLength="11.4" lengthAdjust="spacingAndGlyphs">|</text>
<text x="3646.0" y="2036.5" font-size="33.3" fill="#808080" stroke="#808080" stroke-width="0.80" textLength="91.5" lengthAdjust="spacingAndGlyphs">NASA</text>
<text x="3749.5" y="2036.5" font-size="33.3" fill="#808080" stroke="#808080" stroke-width="0.80" textLength="89.9" lengthAdjust="spacingAndGlyphs">LaRC</text>
<text x="3311.2" y="2075.2" font-size="33.3" fill="#808080" stroke="#808080" stroke-width="0.80" textLength="152.6" lengthAdjust="spacingAndGlyphs">Preparer:</text>
<text x="3471.4" y="2075.2" font-size="33.3" fill="#808080" stroke="#808080" stroke-width="0.80" textLength="92.1" lengthAdjust="spacingAndGlyphs">Kevin</text>
<text x="3574.3" y="2075.2" font-size="33.3" fill="#808080" stroke="#808080" stroke-width="0.80" textLength="30.6" lengthAdjust="spacingAndGlyphs">R.</text>
<text x="3612.8" y="2075.2" font-size="33.3" fill="#808080" stroke="#808080" stroke-width="0.80" textLength="111.6" lengthAdjust="spacingAndGlyphs">Leavor</text>
<text x="3736.0" y="2075.2" font-size="33.3" fill="#808080" stroke="#808080" stroke-width="0.80" textLength="104.3" lengthAdjust="spacingAndGlyphs">(AMA)</text>
<text x="3383.7" y="2112.2" font-size="33.3" fill="#808080" stroke="#808080" stroke-width="0.80" textLength="173.6" lengthAdjust="spacingAndGlyphs">Generated</text>
<text x="3567.1" y="2112.2" font-size="33.3" fill="#808080" stroke="#808080" stroke-width="0.80" textLength="174.3" lengthAdjust="spacingAndGlyphs">2025-09-13</text>
<text x="3752.4" y="2112.2" font-size="33.3" fill="#808080" stroke="#808080" stroke-width="0.80" textLength="80.7" lengthAdjust="spacingAndGlyphs">14:40</text>
<text x="3462.7" y="2149.5" font-size="33.3" fill="#808080" stroke="#808080" stroke-width="0.80" textLength="77.2" lengthAdjust="spacingAndGlyphs">Data</text>
<text x="3554.3" y="2149.5" font-size="33.3" fill="#808080" stroke="#808080" stroke-width="0.80" textLength="129.2" lengthAdjust="spacingAndGlyphs">Version:</text>
<text x="3691.9" y="2149.5" font-size="33.3" fill="#808080" stroke="#808080" stroke-width="0.80" textLength="142.6" lengthAdjust="spacingAndGlyphs">6.0.2-exp</text>
<g id="patch">
<g transform="translate(3460,0) scale(0.27594)">
<path d="M125.0,808.0 L125.0,203.0 A138.0,138.0 0 0 1 263.0,65.0 L1204.5,65.0 A138.0,138.0 0 0 1 1342.5,203.0 L1342.5,808.0 A607.8,607.8 0 0 1 125.0,808.0 Z" fill="#e9594b"/>
<path d="M149.0,808.0 L149.0,203.0 A114.0,114.0 0 0 1 263.0,89.0 L1204.5,89.0 A114.0,114.0 0 0 1 1318.5,203.0 L1318.5,808.0 A583.8,583.8 0 0 1 149.0,808.0 Z" fill="#0b4f83"/>
<circle cx="741.0" cy="799.0" r="489.0" fill="#0b4f83" stroke="#c8cbd9" stroke-width="46.0"/>
<clipPath id="lc"><circle cx="741.0" cy="799.0" r="466.0"/></clipPath>
<g clip-path="url(#lc)">
<clipPath id="ec"><circle cx="100.0" cy="1400.0" r="897.0"/></clipPath>
<circle cx="100.0" cy="1400.0" r="914.0" fill="none" stroke="#196ba1" stroke-width="34"/>
<g clip-path="url(#ec)">
<polygon points="380,430 640,640 700,700 650,725 600,715 585,760 610,800 650,810 690,770 720,745 770,800 800,860 775,880 740,890 735,930 760,985 745,1005 715,960 690,950 672,985 662,1040 668,1085 700,1105 750,1120 790,1100 815,1110 850,1135 880,1100 905,1062 940,1085 975,1160 1010,1240 960,1300 900,1290 850,1250 850,1170 800,1150 740,1150 690,1140 640,1110 590,1075 545,1040 500,1000 380,900" fill="#5ea16c"/>
<polygon points="610,745 632,735 640,760 660,765 655,790 625,790 605,770" fill="#0b4f83"/>
<polygon points="690,800 712,792 722,812 705,822 690,815" fill="#0b4f83"/>
</g>
<line x1="927" y1="690" x2="690" y2="598" stroke="#e8f2fa" stroke-width="3.2"/>
<line x1="927" y1="690" x2="640" y2="610" stroke="#e8f2fa" stroke-width="3.2"/>
<line x1="927" y1="690" x2="760" y2="822" stroke="#e8f2fa" stroke-width="3.2"/>
<line x1="927" y1="690" x2="790" y2="845" stroke="#e8f2fa" stroke-width="3.2"/>
<line x1="930" y1="695" x2="952" y2="938" stroke="#e8f2fa" stroke-width="3.2"/>
<line x1="940" y1="700" x2="993" y2="925" stroke="#e8f2fa" stroke-width="3.2"/>
<line x1="520" y1="565" x2="990" y2="1200" stroke="#e8f2fa" stroke-width="3.2"/>
<circle cx="640" cy="523" r="86" fill="#eceef3"/>
<path d="M600,470 q30,-25 55,-5 q25,15 10,40 q20,10 15,35 q-15,25 -40,10 q-25,5 -30,-20 q-25,-15 -10,-60 Z" fill="#b9bdcc"/>
<path d="M562,500 a86,86 0 0 0 60,108 a100,100 0 0 1 -60,-108 Z" fill="#b9bdcc"/>
<circle cx="1000" cy="1017" r="84" fill="#fddf9f"/>
<path d="M930,972 a84,84 0 0 0 55,128 a150,150 0 0 1 -55,-128 Z" fill="#cfcbd2"/>
<path d="M846,387 L851.28,414.72 L879,420 L851.28,425.28 L846,453 L840.72,425.28 L813,420 L840.72,414.72 Z" fill="#fff"/>
<circle cx="846" cy="420" r="8" fill="#f7cc55"/>
<path d="M797,441 L800.36,458.64 L818,462 L800.36,465.36 L797,483 L793.64,465.36 L776,462 L793.64,458.64 Z" fill="#fff"/>
<path d="M881,461 L883.4,473.6 L896,476 L883.4,478.4 L881,491 L878.6,478.4 L866,476 L878.6,473.6 Z" fill="#fff"/>
<g transform="translate(972,647) rotate(45)" fill="#d6d6d9">
<rect x="-92" y="-4" width="184" height="8" fill="#e6d3b5"/>
<rect x="-103.5" y="-82" width="10" height="148"/>
<rect x="-88.5" y="-82" width="10" height="148"/>
<rect x="-73.5" y="-82" width="10" height="148"/>
<rect x="-58.5" y="-82" width="10" height="148"/>
<rect x="42.5" y="-82" width="10" height="148"/>
<rect x="57.5" y="-82" width="10" height="148"/>
<rect x="72.5" y="-82" width="10" height="148"/>
<rect x="87.5" y="-82" width="10" height="148"/>
<rect x="-6" y="-34" width="12" height="74"/><rect x="-30" y="-14" width="9" height="44"/><rect x="20" y="-26" width="9" height="44"/><rect x="-34" y="14" width="64" height="7"/><rect x="-24" y="-24" width="50" height="7"/>
</g>
</g>
<polygon points="160,872 185,760 215,660 262,610 330,560 395,535 430,600 400,690 330,740 275,800 225,845" fill="#d04838"/>
<polygon points="160,872 200,770 240,700 285,660 300,720 262,790 215,845" fill="#8f2920"/>
<clipPath id="wc"><circle cx="741.0" cy="799.0" r="468.0"/></clipPath>
<g clip-path="url(#wc)">
<polygon points="300,700 330,560 420,525 520,560 565,640 548,700 528,730 535,1215 300,1215 250,900" fill="#d04838"/>
<path d="M352,800 L364,800 L418,1215 L400,1215 Z" fill="#8f2920"/>
<path d="M395,800 L408,800 L474,1215 L455,1215 Z" fill="#8f2920"/>
<path d="M440,800 L451,800 L517,1215 L500,1215 Z" fill="#8f2920"/>
<path d="M480,800 L488,800 L536,1215 L522,1215 Z" fill="#8f2920"/>
<path d="M372,800 L381,800 L442,1215 L430,1215 Z" fill="#e15c4b"/>
<path d="M420,800 L429,800 L494,1215 L482,1215 Z" fill="#e15c4b"/>
<path d="M462,800 L471,800 L524,1215 L512,1215 Z" fill="#e15c4b"/>
<polygon points="300,700 330,640 420,700 500,690 540,700 528,735 430,760 345,740" fill="#8f2920"/>
</g>
<path d="M340,748 L520,790 L518,812 L338,772 Z" fill="#6e2a14"/>
<polygon points="462,775 500,770 520,795 505,830 468,835 448,805" fill="#7a3216"/>
<polygon points="470,785 497,781 510,798 500,822 473,826 459,804" fill="#c98a3c"/>
<polygon points="262,610 330,600 345,660 300,700 255,680" fill="#e15c4b"/>
<ellipse cx="290" cy="668" rx="34" ry="30" fill="#d8a163"/>
<ellipse cx="552" cy="660" rx="18" ry="30" fill="#d8a163"/>
<polygon points="520,612 566,622 552,690 512,680" fill="#7a2a1c"/>
<path d="M372,540 q10,-55 75,-72 q60,-12 85,30 q8,30 -6,50 l-20,-30 l-40,-8 l-30,30 l-20,60 q-40,-20 -44,-60 Z" fill="#f6f6f6"/>
<path d="M430,560 q40,-20 85,10 q10,50 -8,90 q-12,40 -40,45 q-30,-30 -40,-80 Z" fill="#f6f6f6"/>
<path d="M452,505 q30,-22 58,-8 q18,25 8,62 l-22,14 q-30,-10 -44,-38 Z" fill="#d8a163"/>
<path d="M470,548 q25,-6 40,12 l-6,22 q-22,4 -34,-10 Z" fill="#f6f6f6"/>
<path d="M268,440 L300,700 L330,890 L352,960 L372,1062" fill="none" stroke="#b8672c" stroke-width="13" stroke-linejoin="round"/>
<path d="M271,440 L303,700 L333,890 L355,960 L375,1062" fill="none" stroke="#d99a4e" stroke-width="3"/>
<circle cx="262" cy="410" r="37" fill="#c8cbd9" stroke="#eef0f6" stroke-width="5"/>
</g>
<text x="3526.2" y="59.2" font-size="41.0" font-weight="bold" font-family="'Liberation Serif', serif" fill="#fff" textLength="111.9" lengthAdjust="spacingAndGlyphs">SAGE</text>
<text x="3650.3" y="59.2" font-size="41.0" font-weight="bold" font-family="'Liberation Serif', serif" fill="#fff" textLength="51.9" lengthAdjust="spacingAndGlyphs">III</text>
<text x="3731.9" y="59.2" font-size="41.0" font-weight="bold" font-family="'Liberation Serif', serif" fill="#fff" textLength="63.1" lengthAdjust="spacingAndGlyphs">ISS</text>
<text x="3716.2" y="53.5" font-size="24" font-weight="bold" font-family="'Liberation Serif', serif" text-anchor="middle" fill="#fff">&#8226;</text>
<text x="3527.4" y="71.5" font-size="9.0" fill="#e4ecf4" textLength="174.6" lengthAdjust="spacingAndGlyphs">Stratospheric Aerosol and Gas Experiment III</text>
<text x="3736.1" y="71.8" font-size="9.6" fill="#e4ecf4" textLength="54.1" lengthAdjust="spacingAndGlyphs">International</text>
<text x="3733.2" y="82.8" font-size="9.6" fill="#e4ecf4" textLength="60.7" lengthAdjust="spacingAndGlyphs">Space Station</text>
<path id="arcp" d="M3513.1,257.6 A155.3,155.3 0 0 0 3818.7,234.9" fill="none"/>
<text font-size="13.2" font-weight="bold" fill="#fff" stroke="#fff" stroke-width="0.25"><textPath href="#arcp" textLength="436.7" lengthAdjust="spacing">BALL &#8226; NASA LANGLEY RESEARCH CENTER &#8226; TAS-I &#8226; ESA</textPath></text>
</g>
</svg>
</body></html>
